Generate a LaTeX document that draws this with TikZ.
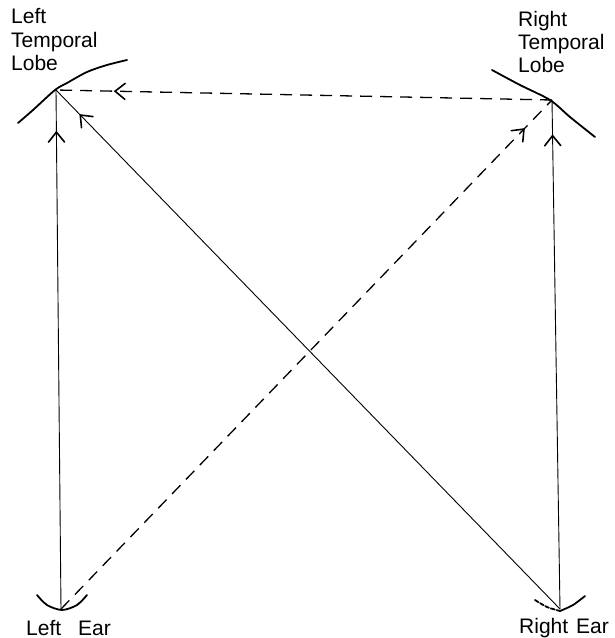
\documentclass[tikz,border=0pt]{standalone}
\usepackage{fontspec}
\setmainfont{Liberation Sans}
\usetikzlibrary{decorations.markings}
\tikzset{
  lbl/.style={anchor=base west,inner sep=0pt,font=\fontsize{21}{24}\selectfont},
  organ/.style={line width=1.8pt,line cap=round},
  solidpath/.style={line width=0.9pt},
  dashpath/.style={line width=1.3pt,dash pattern=on 12pt off 8pt},
  chev/.style={postaction={decorate},decoration={markings,
     mark=at position #1 with {\draw[solid,line width=1.6pt,line cap=round,line join=miter]
        (-10pt,-8pt) -- (0pt,0pt) -- (-10pt,8pt);}}}
}
\begin{document}
\begin{tikzpicture}[x=1pt,y=-1pt]
\useasboundingbox (0,0) rectangle (615,638);
% lobes and ears
\draw[organ] plot[smooth] coordinates {(18,123) (33,110) (55,90) (67,83) (87,72) (107,65) (127,60)};
\draw[organ] plot[smooth] coordinates {(492,70) (520,85) (550,100) (570,117) (595,137)};
\draw[organ] plot[smooth] coordinates {(37,595) (47,605) (62,610) (77,605) (87,595)};
\draw[organ,dash pattern=on 4pt off 2pt] plot[smooth] coordinates {(535,600) (547,607) (560,611)};
\draw[organ] plot[smooth] coordinates {(560,611) (573,605) (585,596)};
% points
\coordinate (LL) at (56,90);
\coordinate (RL) at (552,100);
\coordinate (LE) at (61,609);
\coordinate (RE) at (560,609);
% connectors
\draw[solidpath,chev=0.919] (LE) -- (LL);
\draw[solidpath,chev=0.93] (RE) -- (RL);
\draw[solidpath,chev=0.952] (RE) -- (LL);
\draw[dashpath,chev=0.881] (RL) -- (LL);
\draw[dashpath,chev=0.943] (LE) -- (RL);
% labels
\node[lbl] (lt1) at (11,23) {Left};
\node[lbl] (lt2) at (11,47) {Temporal};
\node[lbl] (lt3) at (11,70) {Lobe};
\node[lbl] (rt1) at (518,26) {Right};
\node[lbl] (rt2) at (518,49) {Temporal};
\node[lbl] (rt3) at (518,72) {Lobe};
\node[lbl] (le1) at (26,635) {Left};
\node[lbl] (le2) at (78,635) {Ear};
\node[lbl] (re1) at (519,633) {Right};
\node[lbl] (re2) at (576,633) {Ear};
\end{tikzpicture}
\end{document}
